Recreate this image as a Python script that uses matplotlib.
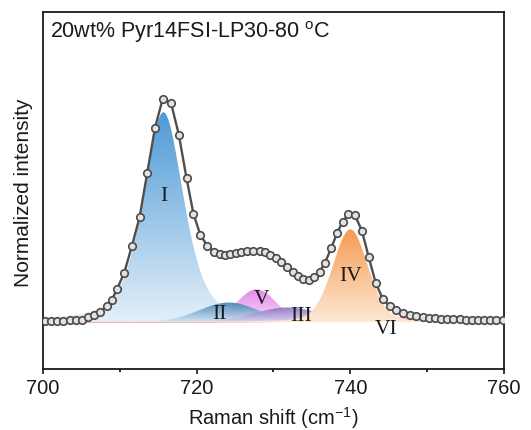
import numpy as np
import matplotlib
matplotlib.use("Agg")
import matplotlib.pyplot as plt
from matplotlib.colors import LinearSegmentedColormap
from matplotlib.patches import PathPatch
from matplotlib.ticker import MultipleLocator

plt.rcParams['font.family'] = ['Liberation Sans', 'DejaVu Sans']
plt.rcParams['mathtext.fontset'] = 'custom'
plt.rcParams['mathtext.rm'] = 'Liberation Sans'
plt.rcParams['mathtext.it'] = 'Liberation Sans:italic'

# ---- measured spectrum (Raman shift, normalized intensity) ----
shift = [700.3, 701.1, 701.9, 702.7, 703.5, 704.3, 705.1, 705.9, 706.7, 707.5,
         708.3, 709.0, 709.7, 710.6, 711.6, 712.6, 713.6, 714.6, 715.6, 716.7,
         717.7, 718.7, 719.6, 720.5, 721.4, 722.3, 723.0, 723.7, 724.4, 725.1,
         725.8, 726.6, 727.4, 728.2, 728.9, 729.6, 730.3, 731.0, 731.8, 732.5,
         733.2, 733.9, 734.6, 735.3, 736.0, 736.7, 737.5, 738.3, 739.0, 739.7,
         740.6, 741.5, 742.4, 743.3, 744.2, 745.1, 746.0, 746.9, 747.8, 748.6,
         749.4, 750.2, 751.0, 751.8, 752.6, 753.4, 754.2, 755.0, 755.8, 756.6,
         757.4, 758.2, 759.0, 759.8]
intensity = [0.006, 0.006, 0.006, 0.006, 0.007, 0.008, 0.011, 0.020, 0.030, 0.045,
             0.070, 0.100, 0.150, 0.220, 0.340, 0.470, 0.670, 0.870, 1.000, 0.980,
             0.840, 0.645, 0.485, 0.390, 0.342, 0.315, 0.305, 0.300, 0.303, 0.308,
             0.315, 0.320, 0.320, 0.318, 0.312, 0.300, 0.285, 0.268, 0.245, 0.225,
             0.205, 0.193, 0.190, 0.200, 0.225, 0.265, 0.330, 0.400, 0.450, 0.482,
             0.478, 0.410, 0.290, 0.175, 0.105, 0.070, 0.052, 0.040, 0.032, 0.026,
             0.022, 0.019, 0.017, 0.015, 0.014, 0.013, 0.012, 0.011, 0.011, 0.010,
             0.010, 0.010, 0.010, 0.010]

# ---- fitted components (pseudo-Voigt peaks) ----
labels  = ['I', 'II', 'V', 'III', 'IV', 'VI']
centers = [715.7, 724.2, 727.8, 731.8, 740.0, 745.0]
heights = [0.94, 0.087, 0.146, 0.065, 0.415, 0.018]
hwhm    = [3.1, 4.5, 3.0, 5.0, 2.7, 9.0]
eta     = [0.5, 0.0, 0.0, 0.0, 0.2, 0.6]
top_colors = ['#4f9ad6', '#3d7fb4', '#e27ae8', '#8466bd', '#f59b52', '#f39aa4']
bot_colors = ['#e4f0f9', '#d2e4f1', '#f7d9f8', '#dcd3ef', '#fde9d4', '#fbd6da']
alphas     = [1.0, 0.9, 0.9, 0.85, 1.0, 0.9]
zorders    = [1, 3, 2, 4, 5, 0.5]

label_x = [715.7, 723.0, 728.4, 733.6, 740.05, 744.7]
label_y = [0.566, 0.036, 0.106, 0.028, 0.21, -0.031]

fig = plt.figure(figsize=(5.31, 4.31), dpi=100)
ax = fig.add_axes([0.0804, 0.142, 0.869, 0.828])

xs = np.linspace(700, 760, 1201)
grad = np.linspace(0, 1, 256).reshape(-1, 1)
for lab, c, h, w, e, ct, cb, a, z in zip(labels, centers, heights, hwhm, eta, top_colors,
                                          bot_colors, alphas, zorders):
    r2 = ((xs - c) / w) ** 2
    prof = h * ((1 - e) * np.exp(-np.log(2) * r2) + e / (1 + r2))
    verts = np.vstack([np.column_stack([xs, prof]),
                       np.column_stack([xs[::-1], np.zeros_like(xs)])])
    path = matplotlib.path.Path(verts)
    patch = PathPatch(path, facecolor='none', edgecolor='none', transform=ax.transData)
    ax.add_patch(patch)
    cmap = LinearSegmentedColormap.from_list('g', [cb, ct])
    im = ax.imshow(grad, extent=[700, 760, 0, h], origin='lower', aspect='auto',
                   cmap=cmap, alpha=a, zorder=z, interpolation='bilinear')
    im.set_clip_path(patch)
    if lab == 'VI':
        ax.plot(xs, prof, color='#f6a9b0', lw=1.6, zorder=0.6)

ax.plot(shift, intensity, '-', color='#4f4f4f', lw=1.7, zorder=8)
ax.plot(shift, intensity, 'o', ms=5.4, mfc='#e2e2e2', mec='#4a4a4a', mew=1.2, zorder=9)

for t, x, y in zip(labels, label_x, label_y):
    ax.text(x, y, t, fontsize=15.5, family='Liberation Serif', ha='center', va='center',
            color='#1a1a1a', zorder=10)

ax.text(0.016, 0.93, r'20wt% Pyr14FSI-LP30-80 $^{\mathrm{o}}$C', transform=ax.transAxes,
        fontsize=15.5, ha='left', va='baseline', color='#1a1a1a', zorder=10)

ax.set_xlim(700, 760)
ax.set_ylim(-0.21, 1.39)
ax.xaxis.set_major_locator(MultipleLocator(20))
ax.xaxis.set_minor_locator(MultipleLocator(10))
ax.set_yticks([])
ax.tick_params(axis='x', which='major', direction='out', length=3.6, width=1.2,
               labelsize=14.5, pad=3.0, colors='#1a1a1a')
ax.tick_params(axis='x', which='minor', direction='out', length=2.4, width=1.2)
for s in ax.spines.values():
    s.set_linewidth(1.3)
    s.set_color('#1a1a1a')

ax.set_xlabel(r'Raman shift (cm$^{\mathrm{-1}}$)', fontsize=14.5, color='#1a1a1a')
ax.set_ylabel('Normalized intensity', fontsize=15, color='#1a1a1a')
ax.xaxis.set_label_coords(0.5, -0.098)
ax.yaxis.set_label_coords(-0.021, 0.495)

fig.savefig('out.png', dpi=100)
